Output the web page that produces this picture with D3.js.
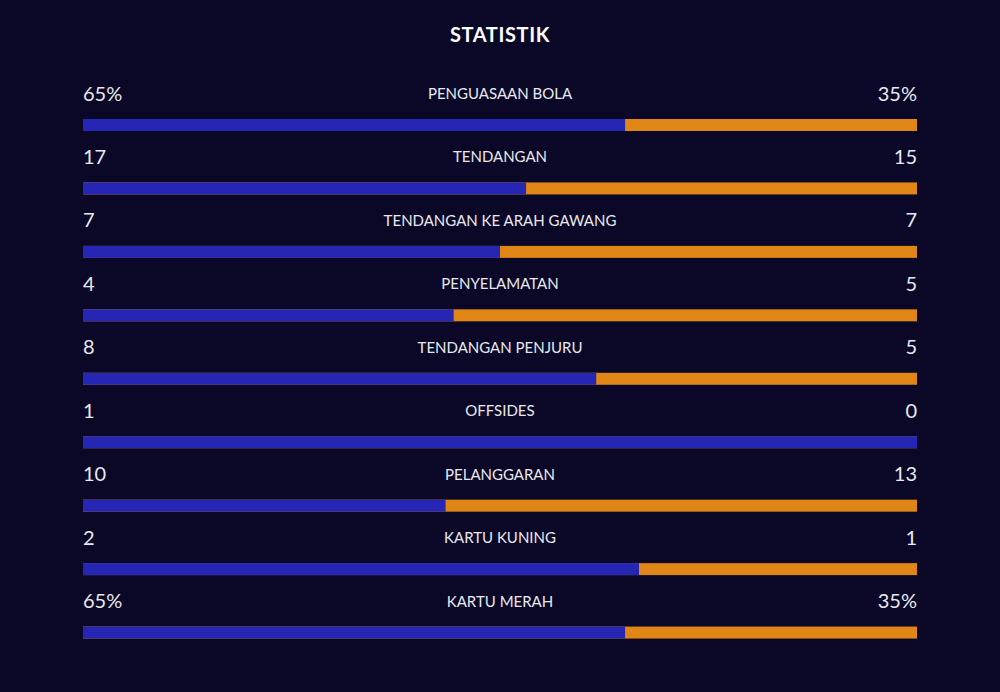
<!DOCTYPE html>
<html><head><meta charset="utf-8">
<script src="https://cdn.jsdelivr.net/npm/d3@7"></script>
<style>html,body{margin:0;padding:0;background:#0a0826;}svg{display:block;}</style>
</head><body>
<script>
const categories = ["PENGUASAAN BOLA","TENDANGAN","TENDANGAN KE ARAH GAWANG","PENYELAMATAN","TENDANGAN PENJURU","OFFSIDES","PELANGGARAN","KARTU KUNING","KARTU MERAH"];
const homeValues = [65,17,7,4,8,1,10,2,65];
const awayValues = [35,15,7,5,5,0,13,1,35];
const homeLabels = ["65%","17","7","4","8","1","10","2","65%"];
const awayLabels = ["35%","15","7","5","5","0","13","1","35%"];
const title = "STATISTIK";

const W = 1000, H = 692;
const svg = d3.select("body").append("svg").attr("width", W).attr("height", H);
svg.append("rect").attr("width", W).attr("height", H).attr("fill", "#0a0826");

svg.append("text").attr("x", 500).attr("y", 42).attr("text-anchor","middle")
  .attr("font-family","Lato, sans-serif").attr("font-weight","700").attr("font-size", 20)
  .attr("fill","#ffffff").attr("letter-spacing","0.6").text(title);

const x = d3.scaleLinear().domain([0,1]).range([83,917]);
const y = d3.scaleBand().domain(categories).range([62, 633]).paddingInner(0);

const rows = svg.selectAll("g.row").data(categories.map((c,i)=>({c,i}))).join("g").attr("class","row")
  .attr("transform", d => `translate(0,${y(d.c)})`);

rows.append("text").attr("x", x(0)).attr("y", 38.5)
  .attr("font-family","Lato, sans-serif").attr("font-size",20).attr("fill","#e8e8ee")
  .text(d => homeLabels[d.i]);
rows.append("text").attr("x", x(1)).attr("y", 38.5).attr("text-anchor","end")
  .attr("font-family","Lato, sans-serif").attr("font-size",20).attr("fill","#e8e8ee")
  .text(d => awayLabels[d.i]);
rows.append("text").attr("x", 500).attr("y", 37).attr("text-anchor","middle")
  .attr("font-family","Lato, sans-serif").attr("font-size",15).attr("fill","#e8e8ee")
  .text(d => d.c);

const frac = i => { const t = homeValues[i] + awayValues[i]; return t ? homeValues[i]/t : 0.5; };
rows.append("rect").attr("x", x(0)).attr("y", 57).attr("height", 12)
  .attr("width", d => x(1) - x(0)).attr("fill", "#df8617");
rows.append("rect").attr("x", x(0)).attr("y", 57).attr("height", 12)
  .attr("width", d => x(frac(d.i)) - x(0)).attr("fill", "#2626b5");
</script>
</body></html>
